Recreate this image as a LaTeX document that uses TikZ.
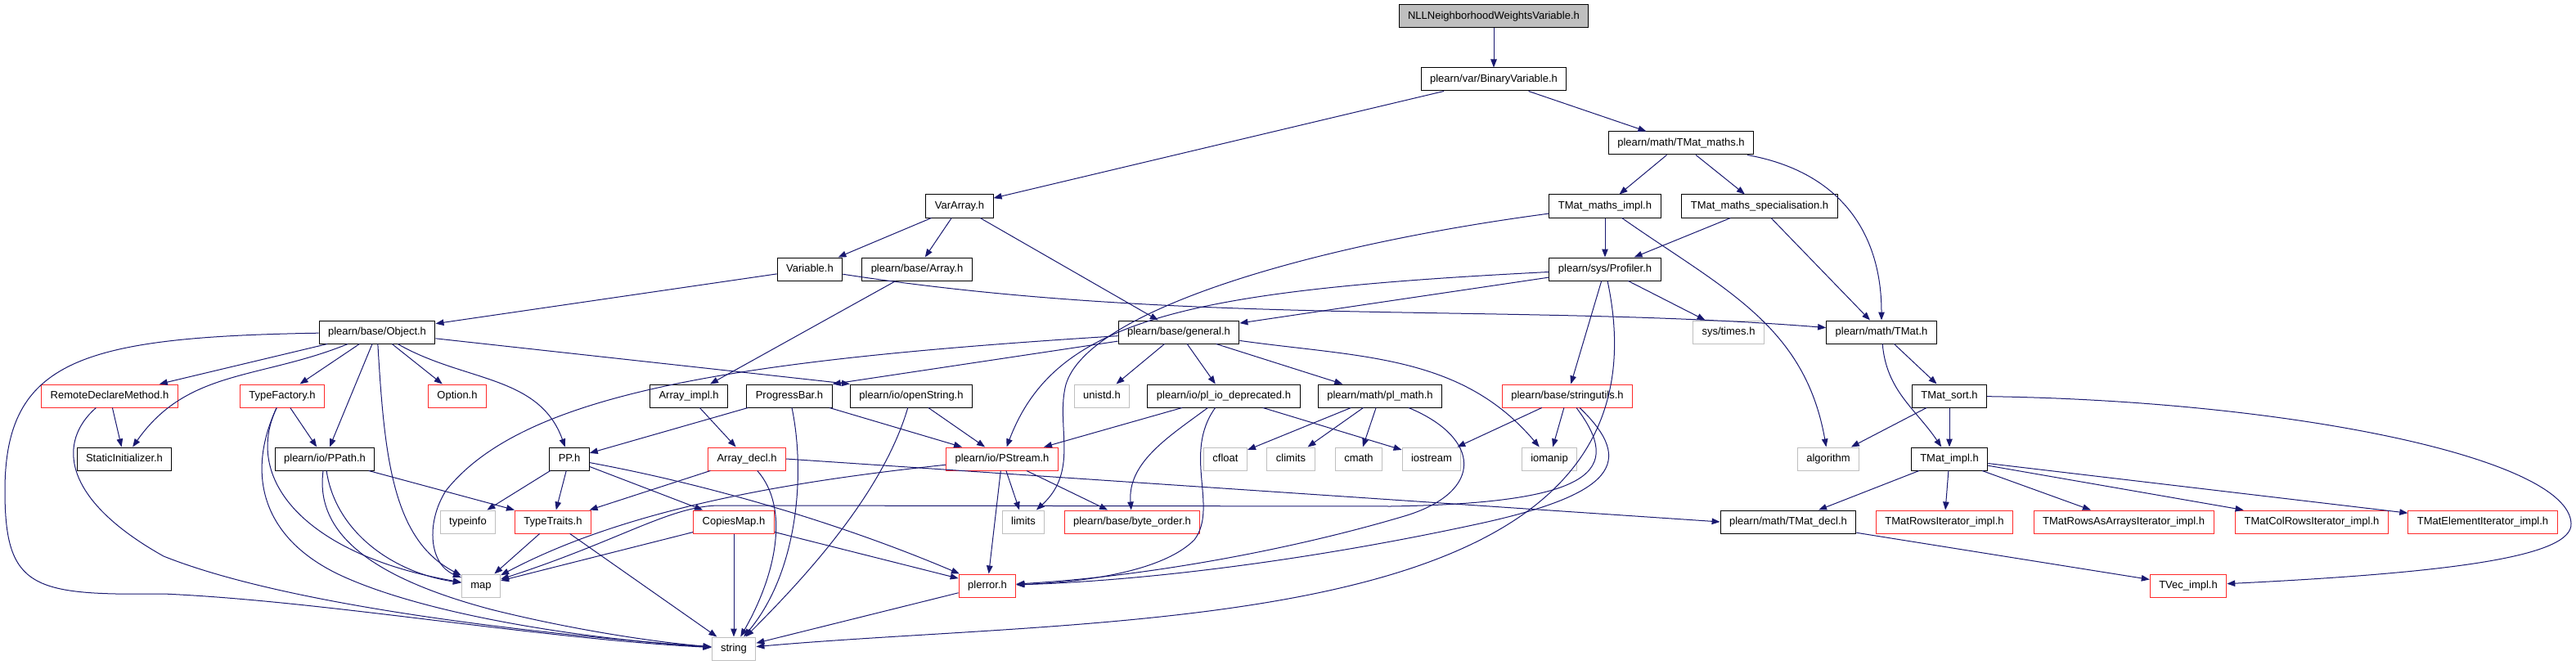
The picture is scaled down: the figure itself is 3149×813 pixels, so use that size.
\documentclass[tikz,border=0pt]{standalone}
\usepackage{fontspec}
\setmainfont{Liberation Sans}
\usepackage{tikz}
\usetikzlibrary{arrows.meta}

\definecolor{edgeblue}{HTML}{191970}
\definecolor{boxgray}{HTML}{BFBFBF}
\definecolor{boxred}{HTML}{FF2A2A}

\tikzset{
  hfile/.style={draw=black, line width=1pt, fill=white, minimum height=28pt,
    inner xsep=11pt, inner ysep=0pt, text height=9.5pt, text depth=3pt,
    font=\fontsize{13}{15}\selectfont},
  topfile/.style={hfile, fill=boxgray},
  cutfile/.style={hfile, draw=boxred},
  sysfile/.style={hfile, draw=boxgray},
  inc/.style={edgeblue, line width=1pt, -{Triangle[length=10pt,width=7.5pt]}}
}

\begin{document}
\begin{tikzpicture}[x=1pt, y=1pt]
  \useasboundingbox (0,0) rectangle (3149,-813);

  \node[topfile] (nll) at (1826,-20) {NLLNeighborhoodWeightsVariable.h};
  \node[hfile] (binvar) at (1826,-97) {plearn/var/BinaryVariable.h};
  \node[hfile] (tmaths) at (2055,-175) {plearn/math/TMat\_maths.h};
  \node[hfile] (vararray) at (1173,-252) {VarArray.h};
  \node[hfile] (tmimpl) at (1962,-252) {TMat\_maths\_impl.h};
  \node[hfile] (tmspec) at (2151,-252) {TMat\_maths\_specialisation.h};
  \node[hfile] (variable) at (990,-329) {Variable.h};
  \node[hfile] (array) at (1121,-329) {plearn/base/Array.h};
  \node[hfile] (profiler) at (1962,-329) {plearn/sys/Profiler.h};
  \node[hfile] (object) at (461,-406) {plearn/base/Object.h};
  \node[hfile] (general) at (1441,-406) {plearn/base/general.h};
  \node[sysfile] (systimes) at (2113,-406) {sys/times.h};
  \node[hfile] (tmat) at (2300,-406) {plearn/math/TMat.h};

  \node[cutfile] (remote) at (134,-484) {RemoteDeclareMethod.h};
  \node[cutfile] (typefactory) at (345,-484) {TypeFactory.h};
  \node[cutfile] (option) at (559,-484) {Option.h};
  \node[hfile] (arrayimpl) at (842,-484) {Array\_impl.h};
  \node[hfile] (progress) at (965,-484) {ProgressBar.h};
  \node[hfile] (openstring) at (1114,-484) {plearn/io/openString.h};
  \node[sysfile] (unistd) at (1347,-484) {unistd.h};
  \node[hfile] (pliodep) at (1496,-484) {plearn/io/pl\_io\_deprecated.h};
  \node[hfile] (plmath) at (1687,-484) {plearn/math/pl\_math.h};
  \node[cutfile] (stringutils) at (1916,-484) {plearn/base/stringutils.h};
  \node[hfile] (tmatsort) at (2383,-484) {TMat\_sort.h};

  \node[hfile] (staticinit) at (152,-561) {StaticInitializer.h};
  \node[hfile] (ppath) at (397,-561) {plearn/io/PPath.h};
  \node[hfile] (pp) at (696,-561) {PP.h};
  \node[cutfile] (arraydecl) at (913,-561) {Array\_decl.h};
  \node[cutfile] (pstream) at (1225,-561) {plearn/io/PStream.h};
  \node[sysfile] (cfloat) at (1498,-561) {cfloat};
  \node[sysfile] (climits) at (1578,-561) {climits};
  \node[sysfile] (cmath) at (1661,-561) {cmath};
  \node[sysfile] (iostream) at (1750,-561) {iostream};
  \node[sysfile] (iomanip) at (1894,-561) {iomanip};
  \node[sysfile] (algorithm) at (2235,-561) {algorithm};
  \node[hfile] (tmatimpl) at (2383,-561) {TMat\_impl.h};

  \node[sysfile] (typeinfo) at (572,-638) {typeinfo};
  \node[cutfile] (typetraits) at (676,-638) {TypeTraits.h};
  \node[cutfile] (copiesmap) at (897,-638) {CopiesMap.h};
  \node[sysfile] (limits) at (1251,-638) {limits};
  \node[cutfile] (byteorder) at (1384,-638) {plearn/base/byte\_order.h};
  \node[hfile] (tmatdecl) at (2186,-638) {plearn/math/TMat\_decl.h};
  \node[cutfile] (rowsit) at (2377,-638) {TMatRowsIterator\_impl.h};
  \node[cutfile] (rowsarr) at (2596,-638) {TMatRowsAsArraysIterator\_impl.h};
  \node[cutfile] (colrows) at (2826,-638) {TMatColRowsIterator\_impl.h};
  \node[cutfile] (elemit) at (3035,-638) {TMatElementIterator\_impl.h};

  \node[sysfile] (map) at (588,-716) {map};
  \node[cutfile] (plerror) at (1207,-716) {plerror.h};
  \node[cutfile] (tvec) at (2675,-716) {TVec\_impl.h};
  \node[sysfile] (string) at (897,-793) {string};

  \path[inc]
  (nll) edge (binvar)
  (binvar) edge (vararray)
           edge (tmaths)
  (tmaths) edge (tmimpl)
           edge (tmspec)
  (tmimpl) edge (profiler)
  (tmspec) edge (profiler)
           edge (tmat)
  (profiler) edge (general)
             edge (systimes)
             edge (stringutils)
  (vararray) edge (variable)
             edge (array)
             edge (general)
  (variable) edge (object)
  (array) edge (arrayimpl)
  (object) edge (remote)
           edge (typefactory)
           edge (ppath)
           edge (option)
           edge (openstring.north west)
  (general) edge (progress.north east)
            edge (unistd)
            edge (pliodep)
            edge (plmath)
  (remote) edge (staticinit)
  (typefactory) edge (ppath)
  (ppath) edge (typetraits.north west)
  (pp) edge (typeinfo)
       edge (typetraits)
       edge (copiesmap)
  (arrayimpl) edge (arraydecl)
  (arraydecl) edge (typetraits)
  (arraydecl.east) edge (tmatdecl.west)
  (progress) edge (pp)
             edge (pstream)
  (openstring) edge (pstream)
  (pliodep) edge (pstream)
            edge (iostream)
  (plmath) edge (cfloat)
           edge (climits)
           edge (cmath)
  (stringutils) edge (iostream)
                edge (iomanip)
  (pstream) edge (limits)
            edge (byteorder)
            edge (plerror)
  (typetraits) edge (map)
               edge (string)
  (copiesmap) edge (map)
              edge (string)
              edge (plerror)
  (plerror) edge (string)
  (tmat) edge (tmatsort)
  (tmatsort) edge (algorithm)
             edge (tmatimpl)
  (tmatimpl) edge (tmatdecl)
             edge (rowsit)
             edge (rowsarr)
             edge (colrows)
             edge (elemit)
  (tmatdecl) edge (tvec);

  % curved includes
  \draw[inc] (tmaths) .. controls (2245,-209) and (2300,-280) .. (tmat);
  \draw[inc] (tmimpl) .. controls (2106,-353) and (2206,-397) .. (algorithm);
  \draw[inc] (tmimpl) .. controls (1600,-300) and (1330,-380) .. (1303,-470)
    .. controls (1290,-520) and (1320,-575) .. (limits);
  \draw[inc] (profiler) .. controls (1450,-355) and (1290,-390) .. (pstream);
  \draw[inc] (profiler) .. controls (2058,-782) and (1371,-751) .. (string);
  \draw[inc] (variable) .. controls (1450,-400) and (1850,-370) .. (tmat);
  \draw[inc] (object) .. controls (318,-464) and (229,-451) .. (staticinit);
  \draw[inc] (object) .. controls (567,-467) and (659,-458) .. (pp);
  \draw[inc] (pp) .. controls (880,-595) and (1040,-645) .. (plerror);
  \draw[inc] (general) .. controls (1662,-437) and (1786,-433) .. (iomanip);
  \draw[inc] (pliodep) .. controls (1430,-533) and (1378,-565) .. (byteorder);
  \draw[inc] (tmat) .. controls (2306,-478) and (2342,-500) .. (tmatimpl);
  \draw[inc] (object) .. controls (100,-412) and (6,-440) .. (6,-600)
    .. controls (6,-720) and (40,-728) .. (200,-726)
    .. controls (400,-735) and (650,-780) .. (string);
  \draw[inc] (object) .. controls (470,-560) and (480,-660) .. (map);
  \draw[inc] (general) .. controls (900,-440) and (640,-480) .. (545,-600)
    .. controls (520,-640) and (525,-690) .. (map);
  \draw[inc] (remote) .. controls (70,-540) and (75,-610) .. (200,-680)
    .. controls (350,-740) and (650,-775) .. (string);
  \draw[inc] (typefactory) .. controls (295,-590) and (380,-680) .. (map);
  \draw[inc] (typefactory) .. controls (300,-580) and (320,-660) .. (420,-705)
    .. controls (520,-750) and (700,-780) .. (string);
  \draw[inc] (ppath) .. controls (410,-650) and (480,-700) .. (map);
  \draw[inc] (ppath) .. controls (385,-650) and (450,-705) .. (600,-745)
    .. controls (700,-770) and (800,-785) .. (string);
  \draw[inc] (arraydecl) .. controls (965,-620) and (950,-700) .. (string);
  \draw[inc] (progress) .. controls (985,-580) and (975,-700) .. (string);
  \draw[inc] (openstring) .. controls (1080,-600) and (990,-700) .. (string);
  \draw[inc] (pstream) .. controls (950,-590) and (760,-625) .. (map);
  \draw[inc] (pliodep) .. controls (1445,-555) and (1490,-620) .. (1460,-660)
    .. controls (1420,-700) and (1320,-712) .. (plerror);
  \draw[inc] (plmath) .. controls (1810,-535) and (1815,-600) .. (1720,-630)
    .. controls (1580,-672) and (1400,-705) .. (plerror);
  \draw[inc] (stringutils) .. controls (1985,-575) and (1950,-615) .. (1700,-619)
    -- (880,-618) .. controls (820,-618) and (760,-660) .. (map);
  \draw[inc] (stringutils) .. controls (2000,-565) and (1975,-605) .. (1800,-642)
    .. controls (1600,-685) and (1400,-710) .. (plerror);
  \draw[inc] (tmatsort) .. controls (2800,-490) and (3140,-560) .. (3143,-640)
    .. controls (3145,-680) and (3000,-700) .. (tvec);
\end{tikzpicture}
\end{document}
